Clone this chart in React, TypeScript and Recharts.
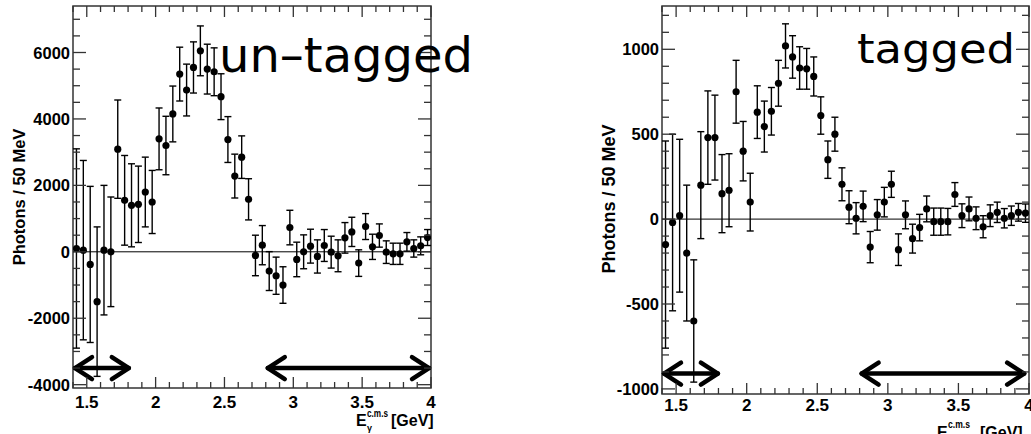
import React from "react";
import { ComposedChart, Scatter, ErrorBar, XAxis, YAxis, ReferenceLine, ReferenceArea } from "recharts";

// 50 MeV bins, centres in GeV
const binCenters = [
  1.425, 1.475, 1.525, 1.575, 1.625, 1.675, 1.725, 1.775, 1.825, 1.875, 1.925, 1.975,
  2.025, 2.075, 2.125, 2.175, 2.225, 2.275, 2.325, 2.375, 2.425, 2.475,
  2.525, 2.575, 2.625, 2.675, 2.725, 2.775, 2.825, 2.875, 2.925, 2.975,
  3.025, 3.075, 3.125, 3.175, 3.225, 3.275, 3.325, 3.375, 3.425, 3.475,
  3.525, 3.575, 3.625, 3.675, 3.725, 3.775, 3.825, 3.875, 3.925, 3.975,
];

const untaggedCounts = [
  100, 50, -380, -1500, 50, 0, 3090, 1550, 1400, 1430, 1800, 1500,
  3400, 3200, 4150, 5350, 4870, 5550, 6050, 5500, 5420, 4670,
  3380, 2280, 2850, 1580, -110, 200, -580, -720, -1000, 730,
  -230, 0, 170, -140, 190, -10, -120, 420, 600, -340,
  760, 150, 490, -10, -60, -60, 300, 100, 180, 430,
];
const untaggedErrors = [
  3000, 2700, 2350, 2250, 1950, 1650, 1480, 1350, 1250, 1150, 1050, 950,
  930, 880, 840, 810, 780, 770, 750, 750, 720, 690,
  690, 660, 640, 620, 610, 590, 585, 560, 550, 520,
  520, 510, 510, 500, 480, 480, 480, 460, 440, 400,
  390, 380, 350, 340, 320, 320, 280, 260, 270, 240,
];

const taggedCounts = [
  -150, -20, 20, -200, -600, 200, 480, 480, 150, 170, 750, 400,
  100, 630, 545, 635, 800, 1020, 955, 890, 885, 840,
  610, 350, 500, 205, 70, 5, 75, -165, 25, 100,
  205, -180, 25, -115, -50, 60, -15, -15, -15, 145,
  20, 60, 5, -45, 20, 40, 5, 20, 40, 35,
];
const taggedErrors = [
  610, 520, 450, 400, 360, 315, 275, 250, 230, 215, 185, 175,
  170, 155, 150, 140, 135, 130, 125, 125, 120, 115,
  110, 110, 100, 97, 97, 92, 90, 92, 90, 87,
  77, 93, 82, 85, 78, 76, 80, 80, 78, 70,
  70, 70, 67, 65, 64, 60, 57, 57, 52, 54,
];

const xTicks = [
  1.4, 1.5, 1.6, 1.7, 1.8, 1.9, 2, 2.1, 2.2, 2.3, 2.4, 2.5, 2.6, 2.7,
  2.8, 2.9, 3, 3.1, 3.2, 3.3, 3.4, 3.5, 3.6, 3.7, 3.8, 3.9, 4,
];
const xMajor = [1.5, 2, 2.5, 3, 3.5, 4];

const untaggedYTicks = [
  -4000, -3500, -3000, -2500, -2000, -1500, -1000, -500, 0, 500, 1000, 1500,
  2000, 2500, 3000, 3500, 4000, 4500, 5000, 5500, 6000, 6500, 7000,
];
const untaggedYMajor = [-4000, -2000, 0, 2000, 4000, 6000];

const taggedYTicks = [
  -1000, -900, -800, -700, -600, -500, -400, -300, -200, -100, 0, 100,
  200, 300, 400, 500, 600, 700, 800, 900, 1000, 1100, 1200,
];
const taggedYMajor = [-1000, -500, 0, 500, 1000];

// fit ranges marked with double arrows
const untaggedArrows = [[1.4, 1.82], [2.8, 4.0]];
const untaggedArrowY = -3500;
const taggedArrows = [[1.4, 1.81], [2.8, 3.98]];
const taggedArrowY = -910;

const FRAME = "#333";
const TICK_FONT = "'Liberation Sans', Arial, sans-serif";

const isIn = (list: number[], v: number) => list.some((m) => Math.abs(m - v) < 1e-6);

const Dot = (p: any) => <circle cx={p.cx} cy={p.cy} r={3.6} fill="#000" />;

const ArrowShape = (p: any) => {
  const { x1, y1, x2, y2 } = p;
  const hx = 19;
  const hy = 11;
  return (
    <g stroke="#000" strokeWidth={4.5} fill="none" strokeLinecap="round" strokeLinejoin="round">
      <line x1={x1 + 2} y1={y1} x2={x2 - 2} y2={y2} />
      <polyline points={`${x1 + hx},${y1 - hy} ${x1 + 2},${y1} ${x1 + hx},${y1 + hy}`} />
      <polyline points={`${x2 - hx},${y2 - hy} ${x2 - 2},${y2} ${x2 - hx},${y2 + hy}`} />
    </g>
  );
};

interface PanelProps {
  counts: number[];
  errors: number[];
  yDomain: [number, number];
  yTicks: number[];
  yMajor: number[];
  arrows: number[][];
  arrowY: number;
  left: number;
  width: number;
  yAxisWidth: number;
  xAxisHeight: number;
  marginRight: number;
  xLabelDy: number;
}

const Panel = (props: PanelProps) => {
  const { counts, errors, yDomain, yTicks, yMajor, arrows, arrowY, left, width, yAxisWidth, xAxisHeight, marginRight, xLabelDy } = props;
  const height = 434;
  const plotTop = 6;
  const plotRight = width - marginRight;
  const data = binCenters.map((x, i) => ({ x, y: counts[i], err: errors[i] }));

  const XTick = (t: any) => {
    const v = t.payload.value;
    const major = isIn(xMajor, v);
    const len = major ? 11 : 6;
    return (
      <g>
        <line x1={t.x} y1={t.y} x2={t.x} y2={t.y - len} stroke={FRAME} strokeWidth={1.3} />
        <line x1={t.x} y1={plotTop} x2={t.x} y2={plotTop + len} stroke={FRAME} strokeWidth={1.3} />
        {major && (
          <text x={t.x} y={t.y + xLabelDy} textAnchor="middle" fontFamily={TICK_FONT} fontWeight="bold" fontSize={17} fill="#000">
            {String(v)}
          </text>
        )}
      </g>
    );
  };

  const YTick = (t: any) => {
    const v = t.payload.value;
    const major = isIn(yMajor, v);
    const len = major ? 13 : 7;
    return (
      <g>
        <line x1={t.x} y1={t.y} x2={t.x + len} y2={t.y} stroke={FRAME} strokeWidth={1.3} />
        <line x1={plotRight} y1={t.y} x2={plotRight - len} y2={t.y} stroke={FRAME} strokeWidth={1.3} />
        {major && (
          <text x={t.x - 3} y={t.y + 6} textAnchor="end" fontFamily={TICK_FONT} fontWeight="bold" fontSize={16.5} fill="#000">
            {String(v)}
          </text>
        )}
      </g>
    );
  };

  return (
    <div style={{ position: "absolute", left, top: 0 }}>
      <ComposedChart width={width} height={height} margin={{ top: plotTop, right: marginRight, bottom: 0, left: 0 }}>
        <XAxis
          dataKey="x" type="number" domain={[1.4, 4.0]} allowDataOverflow
          ticks={xTicks} interval={0} height={xAxisHeight}
          tickSize={0} tickMargin={0} tickLine={false} axisLine={false} tick={XTick}
        />
        <YAxis
          dataKey="y" type="number" domain={yDomain} allowDataOverflow
          ticks={yTicks} interval={0} width={yAxisWidth}
          tickSize={0} tickMargin={0} tickLine={false} axisLine={false} tick={YTick}
        />
        <ReferenceArea x1={1.4} x2={4.0} y1={yDomain[0]} y2={yDomain[1]} fill="none" stroke={FRAME} strokeWidth={1.5} fillOpacity={0} ifOverflow="visible" />
        <ReferenceLine y={0} stroke="#000" strokeWidth={1} />
        {arrows.map(([a, b], i) => (
          <ReferenceLine key={i} segment={[{ x: a, y: arrowY }, { x: b, y: arrowY }]} shape={ArrowShape} ifOverflow="visible" />
        ))}
        <Scatter data={data} dataKey="y" shape={Dot} isAnimationActive={false}>
          <ErrorBar dataKey="err" direction="y" width={3.5} stroke="#000" strokeWidth={1.4} isAnimationActive={false} />
        </Scatter>
      </ComposedChart>
    </div>
  );
};

const App = () => {
  const bold = { fontFamily: TICK_FONT, fontWeight: "bold" as const, fill: "#000" };
  return (
    <div style={{ position: "absolute", left: 0, top: 0, width: 1031, height: 434, background: "#fff", overflow: "hidden" }}>
      <Panel
        counts={untaggedCounts} errors={untaggedErrors}
        yDomain={[-4100, 7400]} yTicks={untaggedYTicks} yMajor={untaggedYMajor}
        arrows={untaggedArrows} arrowY={untaggedArrowY}
        left={0} width={460} yAxisWidth={73} xAxisHeight={46} marginRight={29} xLabelDy={20}
      />
      <Panel
        counts={taggedCounts} errors={taggedErrors}
        yDomain={[-1030, 1255]} yTicks={taggedYTicks} yMajor={taggedYMajor}
        arrows={taggedArrows} arrowY={taggedArrowY}
        left={600} width={431} yAxisWidth={62} xAxisHeight={40} marginRight={2} xLabelDy={17}
      />
      <svg width={1031} height={434} style={{ position: "absolute", left: 0, top: 0, pointerEvents: "none" }}>
        <text x={219} y={72} fontFamily="'DejaVu Sans', sans-serif" fontSize={48} fill="#000">un–tagged</text>
        <text x={857} y={63} fontFamily="'DejaVu Sans', sans-serif" fontSize={40} textLength={158} lengthAdjust="spacingAndGlyphs" fill="#000">tagged</text>

        <text x={25} y={197} transform="rotate(-90, 25, 197)" textAnchor="middle" fontSize={16.5} {...bold}>Photons / 50 MeV</text>
        <text x={615} y={199} transform="rotate(-90, 615, 199)" textAnchor="middle" fontSize={18} {...bold}>Photons / 50 MeV</text>

        <text x={356} y={426} fontSize={16} {...bold}>E</text>
        <text x={367} y={417} fontSize={10} textLength={21} lengthAdjust="spacingAndGlyphs" {...bold}>c.m.s</text>
        <text x={367} y={431} fontSize={9} {...bold}>γ</text>
        <text x={391} y={426} fontSize={16} {...bold}>[GeV]</text>

        <text x={937} y={438} fontSize={16} {...bold}>E</text>
        <text x={948} y={428} fontSize={10} textLength={22} lengthAdjust="spacingAndGlyphs" {...bold}>c.m.s</text>
        <text x={980} y={438} fontSize={16} {...bold}>[GeV]</text>
      </svg>
    </div>
  );
};

export default App;
